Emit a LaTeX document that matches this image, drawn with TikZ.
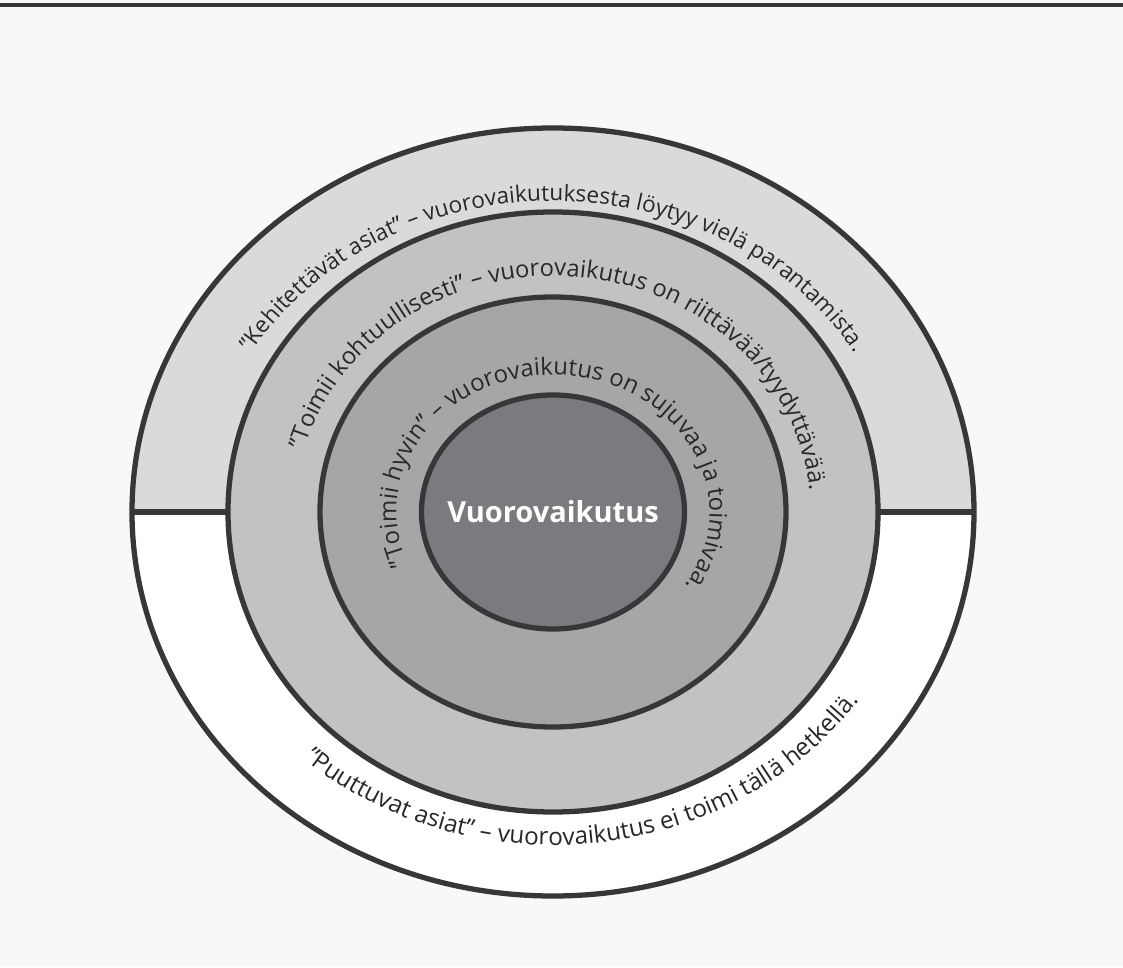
\documentclass[tikz,border=0pt]{standalone}
\usepackage{fontspec}
\setmainfont{Open Sans}
\usepackage{tikz}
\usetikzlibrary{decorations.text}

\definecolor{paper}{RGB}{248,248,250}
\definecolor{ringline}{RGB}{55,55,57}
\definecolor{bandtop}{RGB}{218,218,220}
\definecolor{ringmid}{RGB}{194,194,196}
\definecolor{ringin}{RGB}{166,166,169}
\definecolor{corefill}{RGB}{122,122,127}
\definecolor{inktext}{RGB}{40,40,42}

\tikzset{
  ringedge/.style={draw=ringline, line width=3pt},
  arctext/.style 2 args={decorate, decoration={text along path, text align=center,
      text color=inktext, text={|\fontsize{#1}{#1}\selectfont|#2}}},
}

\begin{document}
\begin{tikzpicture}
    \useasboundingbox[fill=paper] (-11.06,-9.10) rectangle (11.40,10.24);
    \coordinate (ctr) at (0,0);
    \coordinate (tl) at (-11.06,10.14);
    \coordinate (tr) at (11.40,10.14);
    \draw[ringline, line width=2.2pt] (tl) -- (tr);

    % outer band: upper half grey, lower half white
    \fill[white] (ctr) ellipse[x radius=8.42, y radius=7.68];
    \fill[bandtop] (8.42,0) arc[start angle=0, end angle=180, x radius=8.42, y radius=7.68] -- cycle;
    \draw[ringedge, fill=ringmid] (ctr) ellipse[x radius=6.5, y radius=6.0];
    \draw[ringedge, fill=ringin] (ctr) ellipse[x radius=4.66, y radius=4.3];
    \draw[ringedge, fill=corefill] (ctr) ellipse[x radius=2.63, y radius=2.34];
    \draw[ringedge] (ctr) ellipse[x radius=8.42, y radius=7.68];

    \coordinate (dl1) at (-8.42,0);
    \coordinate (dl2) at (-6.5,0);
    \coordinate (dr1) at (6.5,0);
    \coordinate (dr2) at (8.42,0);
    \draw[ringedge] (dl1) -- (dl2);
    \draw[ringedge] (dr1) -- (dr2);

    \node[text=white, font=\bfseries\fontsize{16.5}{20}\selectfont] (core) at (ctr) {Vuorovaikutus};

    % texts along the rings
    \path[arctext={12.9}{”Kehitettävät asiat” – vuorovaikutuksesta löytyy vielä parantamista.}]
        (168:7.02 and 6.22) arc[start angle=168, end angle=12, x radius=7.02, y radius=6.22];
    \path[arctext={13.5}{”Toimii kohtuullisesti” – vuorovaikutus on riittävää/tyydyttävää.}]
        (190:5.15 and 4.72) arc[start angle=190, end angle=-20, x radius=5.15, y radius=4.72];
    \path[arctext={13.6}{”Toimii hyvin” – vuorovaikutus on sujuvaa ja toimivaa.}]
        (232:3.13 and 2.74) arc[start angle=232, end angle=-62, x radius=3.13, y radius=2.74];
    \path[arctext={13.8}{”Puuttuvat asiat” – vuorovaikutus ei toimi tällä hetkellä.}]
        (204:7.42 and 6.66) arc[start angle=204, end angle=350, x radius=7.42, y radius=6.66];
\end{tikzpicture}
\end{document}
